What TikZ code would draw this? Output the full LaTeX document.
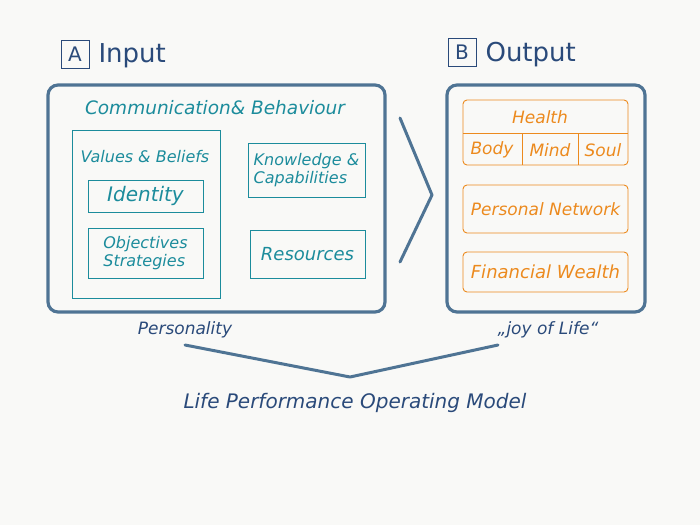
\documentclass[tikz,border=0pt]{standalone}
\usepackage{fontspec}
\setmainfont{DejaVu Sans}
\begin{document}
\begin{tikzpicture}[x=1pt,y=-1pt,
  thick/.style={draw=frame,line width=3.2pt,rounded corners=10pt},
  tealbox/.style={draw=teal1,line width=0.8pt},
  orbox/.style={draw=or1,line width=0.9pt,rounded corners=4pt},
  tl/.style={text=teal1,font=\itshape\fontsize{16}{18}\selectfont,align=left},
  ol/.style={text=or1,font=\itshape\fontsize{17}{19}\selectfont},
  bl/.style={text=navy1,font=\itshape\fontsize{17}{19}\selectfont}]
\definecolor{frame}{HTML}{4F7494}
\definecolor{teal1}{HTML}{1C8C9C}
\definecolor{or1}{HTML}{EC8A1E}
\definecolor{navy1}{HTML}{2A4A7A}
\fill[fill={rgb,255:red,249;green,249;blue,247}] (0,0) rectangle (700,525);
\useasboundingbox (0,0) rectangle (700,525);
% headers
\node[draw=navy1,line width=0.8pt,minimum width=28pt,minimum height=28pt,bl,font=\fontsize{20}{22}\selectfont] (A) at (75,54) {A};
\node[bl,font=\fontsize{26}{28}\selectfont,anchor=west] (inp) at (95,56) {Input};
\node[draw=navy1,line width=0.8pt,minimum width=28pt,minimum height=28pt,bl,font=\fontsize{20}{22}\selectfont] (B) at (462,52) {B};
\node[bl,font=\fontsize{26}{28}\selectfont,anchor=west] (out) at (482,55) {Output};
% left big box
\node[thick,minimum width=337pt,minimum height=227pt] (L) at (216.5,198.5) {};
\node[tl,font=\itshape\fontsize{18.5}{20}\selectfont] (cb) at (215,108) {Communication\& Behaviour};
\node[tealbox,minimum width=148pt,minimum height=168pt] (vb) at (146,214) {};
\node[tl] (vbt) at (145,157) {Values \& Beliefs};
\node[tealbox,minimum width=115pt,minimum height=32pt,tl,font=\itshape\fontsize{20}{22}\selectfont] (id) at (145.5,196) {Identity};
\node[tealbox,minimum width=115pt,minimum height=50pt,tl,inner sep=1pt] (os) at (145.5,253) {Objectives\\Strategies};
\node[tealbox,minimum width=117pt,minimum height=54pt,tl,inner sep=1pt] (kc) at (306.5,170) {Knowledge \&\\Capabilities};
\node[tealbox,minimum width=115pt,minimum height=48pt,tl,font=\itshape\fontsize{18}{20}\selectfont] (res) at (307.5,254) {Resources};
% chevron
\coordinate (c1) at (400,118); \coordinate (c2) at (432,195); \coordinate (c3) at (400,262);
\draw[draw=frame,line width=3pt,line cap=round,line join=round] (c1) -- (c2) -- (c3);
% right box
\node[thick,minimum width=198pt,minimum height=227pt] (R) at (546,198.5) {};
\node[orbox,minimum width=165pt,minimum height=65pt] (h) at (545.5,132.5) {};
\node[ol] (ht) at (540,117) {Health};
\coordinate (hl) at (463,133); \coordinate (hr) at (628,133);
\draw[or1,line width=0.9pt] (hl) -- (hr);
\coordinate (d1t) at (522,133); \coordinate (d1b) at (522,165);
\coordinate (d2t) at (578,133); \coordinate (d2b) at (578,165);
\draw[or1,line width=0.9pt] (d1t) -- (d1b) (d2t) -- (d2b);
\node[ol] (body) at (492,150) {Body};
\node[ol] (mind) at (550,150) {Mind};
\node[ol] (soul) at (603,150) {Soul};
\node[orbox,minimum width=165pt,minimum height=48pt,ol] (pn) at (545.5,209) {Personal Network};
\node[orbox,minimum width=165pt,minimum height=40pt,ol,font=\itshape\fontsize{18}{20}\selectfont] (fw) at (545.5,272) {Financial Wealth};
% labels
\node[bl] (pers) at (185,330) {Personality};
\node[bl] (joy) at (548,330) {„joy of Life“};
\coordinate (b1) at (185,345); \coordinate (b2) at (350,377); \coordinate (b3) at (498,345);
\draw[draw=frame,line width=3pt,line cap=round,line join=round] (b1) -- (b2) -- (b3);
\node[bl,font=\itshape\fontsize{20}{22}\selectfont] (lp) at (355,403) {Life Performance Operating Model};
\end{tikzpicture}
\end{document}
